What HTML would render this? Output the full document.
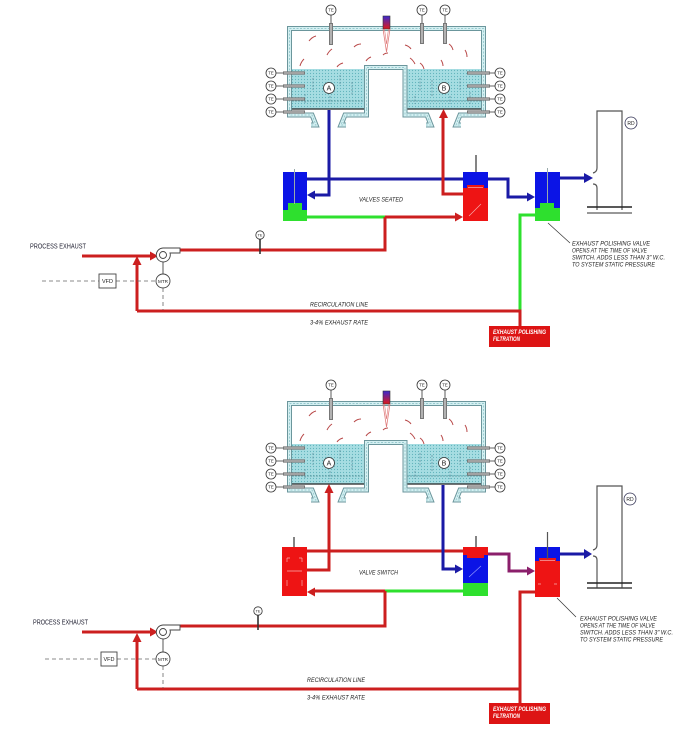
<!DOCTYPE html>
<html><head><meta charset="utf-8">
<style>
html,body{margin:0;padding:0;background:#fff;}
svg{display:block;}
.r{stroke:#cc1f1f;stroke-width:3;fill:none;}
.b{stroke:#1a1aa6;stroke-width:3;fill:none;}
.g{stroke:#2ee02e;stroke-width:3;fill:none;}
.p{stroke:#8b1f6b;stroke-width:3;fill:none;}
.w1{stroke:#6b969c;stroke-width:5;fill:none;}
.w2{stroke:#d4f0f2;stroke-width:3;fill:none;}
.w3{stroke:#84bcc2;stroke-width:.7;fill:none;stroke-dasharray:2 1.5;}
.lbl{font-family:"Liberation Sans",sans-serif;font-size:7px;fill:#223;font-style:italic;}
.ann{font-family:"Liberation Sans",sans-serif;font-size:6px;fill:#222;font-style:italic;}
.te{font-family:"Liberation Sans",sans-serif;font-size:4.3px;fill:#222;text-anchor:middle;}
.wt{font-family:"Liberation Sans",sans-serif;font-size:6px;fill:#fff;font-style:italic;font-weight:bold;}
.dash{stroke:#666;stroke-width:.8;stroke-dasharray:4 3;fill:none;}
</style></head>
<body>
<svg width="700" height="736" viewBox="0 0 700 736" xmlns="http://www.w3.org/2000/svg">
<defs>
<pattern id="dots" width="3" height="3" patternUnits="userSpaceOnUse">
<rect width="3" height="3" fill="#a6dde2"/><circle cx="1.5" cy="1.5" r=".6" fill="#62b4bc"/>
</pattern>
<linearGradient id="burn" x1="0" y1="0" x2="0" y2="1">
<stop offset="0" stop-color="#3a2ad0"/><stop offset="1" stop-color="#e01818"/>
</linearGradient>
<g id="walls">
<path d="M289.5,109 V28.5 H483.5 V109"/>
<path d="M366.5,109 V67.5 H405 V109"/>
<path d="M289.5,109 V115 H312 L316,125 H311"/>
<path d="M366.5,109 V115 H345 L341,125 H346"/>
<path d="M405,109 V115 H427 L431,125 H426"/>
<path d="M483.5,109 V115 H460 L456,125 H461"/>
</g>
<g id="chbody">
<rect x="292" y="69" width="73" height="40" fill="url(#dots)"/>
<rect x="407" y="69" width="75" height="40" fill="url(#dots)"/>
<line x1="292" y1="101" x2="365" y2="101" stroke="#4f8c93" stroke-width=".8" stroke-dasharray="2 1"/>
<line x1="407" y1="101" x2="482" y2="101" stroke="#4f8c93" stroke-width=".8" stroke-dasharray="2 1"/>
<line x1="291" y1="109" x2="365" y2="109" stroke="#222" stroke-width="1.2"/>
<line x1="407" y1="109" x2="482" y2="109" stroke="#222" stroke-width="1.2"/>
<g stroke="#5a8a9a" stroke-width=".7" stroke-dasharray="2 1.5">
<path d="M313,78 V90 M340,75 V86 M352,82 V95 M330,96 V104 M305,94 V104 M420,78 V92 M432,80 V96 M460,78 V90 M470,92 V104 M450,96 V104 M415,96 V104"/>
</g>
<use href="#walls" class="w1"/>
<use href="#walls" class="w2"/>
<use href="#walls" class="w3"/>
<!-- flame arcs -->
<g stroke="#b84848" stroke-width="1" fill="none">
<path d="M309,41 q3,-4 7,-5"/><path d="M300,66 q1,-4 4,-7"/><path d="M327,55 q2,-4 5,-6"/>
<path d="M337,67 q2,-3 6,-4"/><path d="M354,47 q3,-3 7,-3"/><path d="M366,61 q2,-3 5,-4"/>
<path d="M405,45 q4,1 6,4"/><path d="M410,58 q3,2 5,6"/><path d="M420,63 q3,2 4,6"/>
<path d="M441,60 q2,3 2,6"/><path d="M449,44 q3,2 4,6"/><path d="M465,50 q2,3 2,7"/>
<path d="M383,55 q2,-2 5,-2"/>
</g>
<!-- burner -->
<rect x="383" y="16" width="7" height="13" fill="url(#burn)" stroke="#333" stroke-width=".6"/>
<path d="M383,29 L386.5,52 L390,29" fill="none" stroke="#e07a7a" stroke-width=".8"/>
<path d="M384.5,29 L386.5,44 L388.5,29" fill="none" stroke="#e07a7a" stroke-width=".6"/>
<!-- top rods -->
<g stroke="#777" stroke-width="4"><path d="M331,23 V45 M422,23 V44 M445,23 V44"/></g>
<g stroke="#ccc" stroke-width="1.4"><path d="M331,24 V44 M422,24 V43 M445,24 V43"/></g>
<g stroke="#333" stroke-width=".8"><path d="M331,15 V23 M422,15 V23 M445,15 V23"/></g>
<!-- side rods -->
<g stroke="#777" stroke-width="3.2"><path d="M283,73 H305 M283,86 H305 M283,99 H305 M283,112 H305 M467,73 H490 M467,86 H490 M467,99 H490 M467,112 H490"/></g>
<g stroke="#ccc" stroke-width="1"><path d="M284,73 H304 M284,86 H304 M284,99 H304 M284,112 H304 M468,73 H489 M468,86 H489 M468,99 H489 M468,112 H489"/></g>
<g stroke="#333" stroke-width=".8"><path d="M276,73 H283 M276,86 H283 M276,99 H283 M276,112 H283 M490,73 H495 M490,86 H495 M490,99 H495 M490,112 H495"/></g>
<g fill="#fff" stroke="#333" stroke-width=".8">
<circle cx="331" cy="10" r="5"/><circle cx="422" cy="10" r="5"/><circle cx="445" cy="10" r="5"/>
<circle cx="271" cy="73" r="5"/><circle cx="271" cy="86" r="5"/><circle cx="271" cy="99" r="5"/><circle cx="271" cy="112" r="5"/>
<circle cx="500" cy="73" r="5"/><circle cx="500" cy="86" r="5"/><circle cx="500" cy="99" r="5"/><circle cx="500" cy="112" r="5"/>
<circle cx="329" cy="88" r="5.5"/><circle cx="444" cy="88" r="5.5"/>
</g>
</g>
</defs>

<rect width="700" height="736" fill="#fff"/>

<!-- ================= TOP ================= -->
<use href="#chbody"/>
<g class="te">
<text x="331" y="11.6">TE</text><text x="422" y="11.6">TE</text><text x="445" y="11.6">TE</text>
<text x="271" y="74.6">TE</text><text x="271" y="87.6">TE</text><text x="271" y="100.6">TE</text><text x="271" y="113.6">TE</text>
<text x="500" y="74.6">TE</text><text x="500" y="87.6">TE</text><text x="500" y="100.6">TE</text><text x="500" y="113.6">TE</text>
</g>
<text x="329" y="90.5" class="te" style="font-size:7px">A</text>
<text x="444" y="90.5" class="te" style="font-size:7px">B</text>

<!-- pipes top -->
<path class="b" d="M329,110 V195 H313"/>
<polygon points="307,195 315,190.5 315,199.5" fill="#1a1aa6"/>
<path class="b" d="M307,179 H463"/>
<path class="b" d="M488,179 H508 V197 H529"/>
<polygon points="535,197 527,192.5 527,201.5" fill="#1a1aa6"/>
<path class="b" d="M560,178 H585"/>
<polygon points="593,178 584,173 584,183" fill="#1a1aa6"/>
<path class="r" d="M443,117 V194 H463"/>
<polygon points="443.5,109 439,118 448,118" fill="#cc1f1f"/>
<path class="g" d="M307,217 H386"/>
<path class="r" d="M385,217 H457"/>
<polygon points="463,217 455,212.5 455,221.5" fill="#cc1f1f"/>
<path class="r" d="M180,250 H385 V217"/>
<path class="g" d="M535,215 H520 V311"/>
<path class="r" d="M137,311 H520 V327"/>
<path class="r" d="M137,311 V263"/>
<polygon points="137,256 132.5,265 141.5,265" fill="#cc1f1f"/>
<path class="r" d="M82,256 H152"/>
<polygon points="158,256 150,251.5 150,260.5" fill="#cc1f1f"/>

<!-- valves top -->
<rect x="283" y="172" width="24" height="38" fill="#0b14e6"/>
<rect x="283" y="210" width="24" height="11" fill="#2ee02e"/>
<rect x="288" y="203" width="14" height="7" fill="#2ee02e"/>
<line x1="294.5" y1="169" x2="294.5" y2="204" stroke="#9aa" stroke-width="1"/>
<rect x="463" y="172" width="25" height="13" fill="#0b14e6"/>
<rect x="463" y="185" width="25" height="36" fill="#ee1414"/>
<rect x="463" y="185" width="4" height="3" fill="#0b14e6"/><rect x="484" y="185" width="4" height="3" fill="#0b14e6"/>
<line x1="468" y1="187.5" x2="483" y2="187.5" stroke="#f7b0b0" stroke-width=".7"/>
<line x1="469" y1="216" x2="481" y2="204" stroke="#f7b0b0" stroke-width=".6"/>
<line x1="476" y1="155" x2="476" y2="172" stroke="#333" stroke-width="1.2"/>
<rect x="535" y="172" width="25" height="36" fill="#0b14e6"/>
<rect x="535" y="208" width="25" height="13" fill="#2ee02e"/>
<rect x="540" y="203" width="14" height="6" fill="#2ee02e"/>
<line x1="547.5" y1="168" x2="547.5" y2="203" stroke="#9aa" stroke-width="1"/>

<!-- fan top -->
<path d="M170,253 A7,7 0 1 1 163,248 H180 V253 Z" fill="#fff" stroke="#444" stroke-width=".9"/>
<circle cx="163" cy="255" r="3.5" fill="#fff" stroke="#444" stroke-width=".9"/>
<line x1="163" y1="262" x2="163" y2="274" stroke="#444" stroke-width=".9"/>
<circle cx="163" cy="281" r="7" fill="#fff" stroke="#444" stroke-width=".9"/>
<text x="163" y="282.8" class="te" style="font-size:4.6px">MTR</text>
<path class="dash" d="M42,281 H99 M116,281 H156 M163,288 V310"/>
<rect x="99" y="274" width="17" height="14" fill="#fff" stroke="#444" stroke-width=".9"/>
<text x="107.5" y="283" class="te" style="font-size:5.5px">VFD</text>
<circle cx="260" cy="235" r="4.2" fill="#fff" stroke="#333" stroke-width=".8"/>
<text x="260" y="236.5" class="te" style="font-size:3.8px">TE</text>
<line x1="260" y1="239" x2="260" y2="254" stroke="#333" stroke-width="1.6"/>

<!-- texts top -->
<text x="30" y="248.5" class="lbl" textLength="56" lengthAdjust="spacingAndGlyphs" style="font-style:normal">PROCESS EXHAUST</text>
<text x="359" y="201.5" class="ann" textLength="44" lengthAdjust="spacingAndGlyphs">VALVES SEATED</text>
<text x="310" y="306.5" class="ann" textLength="58" lengthAdjust="spacingAndGlyphs">RECIRCULATION LINE</text>
<text x="310" y="324.5" class="ann" textLength="58" lengthAdjust="spacingAndGlyphs">3-4% EXHAUST RATE</text>

<rect x="489" y="326" width="61" height="21" fill="#dd1414"/>
<text x="493" y="334" class="wt" textLength="53" lengthAdjust="spacingAndGlyphs">EXHAUST POLISHING</text>
<text x="493" y="341" class="wt" textLength="27" lengthAdjust="spacingAndGlyphs">FILTRATION</text>

<!-- annotation top -->
<line x1="548" y1="223" x2="570" y2="243" stroke="#333" stroke-width=".7"/>
<text x="572" y="245.5" class="ann" textLength="78" lengthAdjust="spacingAndGlyphs">EXHAUST POLISHING VALVE</text>
<text x="572" y="252.5" class="ann" textLength="75" lengthAdjust="spacingAndGlyphs">OPENS AT THE TIME OF VALVE</text>
<text x="572" y="259.5" class="ann" textLength="93" lengthAdjust="spacingAndGlyphs">SWITCH. ADDS LESS THAN 3" W.C.</text>
<text x="572" y="266.5" class="ann" textLength="83" lengthAdjust="spacingAndGlyphs">TO SYSTEM STATIC PRESSURE</text>

<!-- stack top -->
<g fill="none" stroke="#555" stroke-width="1.2">
<path d="M597,168 V111 H622 V210"/>
<path d="M597,188 V210"/>
<path d="M597,168 q0,4 -4,5"/><path d="M597,188 q0,-4 -4,-4"/>
</g>
<line x1="587" y1="207" x2="632" y2="207" stroke="#222" stroke-width="1.5"/>
<line x1="587" y1="213" x2="632" y2="213" stroke="#777" stroke-width="1.5"/>
<circle cx="631" cy="123" r="6" fill="#fff" stroke="#335" stroke-width=".8"/>
<text x="631" y="125" class="te" style="font-size:5px">RD</text>

<!-- ================= BOTTOM ================= -->
<use href="#chbody" y="375"/>
<g class="te">
<text x="331" y="386.6">TE</text><text x="422" y="386.6">TE</text><text x="445" y="386.6">TE</text>
<text x="271" y="449.6">TE</text><text x="271" y="462.6">TE</text><text x="271" y="475.6">TE</text><text x="271" y="488.6">TE</text>
<text x="500" y="449.6">TE</text><text x="500" y="462.6">TE</text><text x="500" y="475.6">TE</text><text x="500" y="488.6">TE</text>
</g>
<text x="329" y="465.5" class="te" style="font-size:7px">A</text>
<text x="444" y="465.5" class="te" style="font-size:7px">B</text>

<!-- pipes bottom -->
<path class="r" d="M329,492 V570 H307"/>
<polygon points="329,484 324.5,493 333.5,493" fill="#cc1f1f"/>
<path class="r" d="M307,551 H463"/>
<path class="b" d="M443,485 V569 H457"/>
<polygon points="463,569 455,564.5 455,573.5" fill="#1a1aa6"/>
<path class="g" d="M463,591 H384"/>
<path class="r" d="M385,591 H313"/>
<polygon points="307,592 315,587.5 315,596.5" fill="#cc1f1f"/>
<path class="r" d="M180,626 H385 V591"/>
<path class="p" d="M488,554 H509 V571 H529"/>
<polygon points="535,571 527,566.5 527,575.5" fill="#8b1f6b"/>
<path class="b" d="M560,554 H585"/>
<polygon points="592,554 584,549 584,559" fill="#1a1aa6"/>
<path class="r" d="M535,592 H520 V703"/>
<path class="r" d="M137,689 H520"/>
<path class="r" d="M137,689 V640"/>
<polygon points="137,633 132.5,642 141.5,642" fill="#cc1f1f"/>
<path class="r" d="M82,632 H152"/>
<polygon points="158,632 150,627.5 150,636.5" fill="#cc1f1f"/>

<!-- valves bottom -->
<rect x="282" y="547" width="25" height="49" fill="#ee1414"/>
<g stroke="#f7b0b0" stroke-width=".7" fill="none">
<path d="M287,558 V562 M302,558 V562 M287,558 H290 M302,558 H299 M287,571 H302 M287,580 V586 M302,580 V586"/>
</g>
<line x1="294" y1="537" x2="294" y2="547" stroke="#333" stroke-width="1.2"/>
<rect x="463" y="547" width="25" height="11" fill="#ee1414"/>
<rect x="463" y="558" width="25" height="25" fill="#0b14e6"/>
<rect x="463" y="555" width="4" height="3" fill="#0b14e6"/><rect x="484" y="555" width="4" height="3" fill="#0b14e6"/>
<rect x="463" y="583" width="25" height="13" fill="#2ee02e"/>
<line x1="469" y1="577" x2="481" y2="566" stroke="#9aa0ff" stroke-width=".6"/>
<line x1="476" y1="536" x2="476" y2="547" stroke="#333" stroke-width="1.2"/>
<rect x="535" y="547" width="25" height="11" fill="#0b14e6"/>
<rect x="535" y="558" width="25" height="39" fill="#ee1414"/>
<rect x="535" y="558" width="4" height="3" fill="#0b14e6"/><rect x="556" y="558" width="4" height="3" fill="#0b14e6"/>
<line x1="540" y1="560.5" x2="555" y2="560.5" stroke="#f7b0b0" stroke-width=".7"/>
<path d="M538,584 H541 M554,584 H557" stroke="#f7b0b0" stroke-width=".7"/>
<line x1="547.5" y1="532" x2="547.5" y2="559" stroke="#555" stroke-width="1.2"/>

<!-- fan bottom -->
<path d="M170,630 A7,7 0 1 1 163,625 H180 V630 Z" fill="#fff" stroke="#444" stroke-width=".9"/>
<circle cx="163" cy="632" r="3.5" fill="#fff" stroke="#444" stroke-width=".9"/>
<line x1="163" y1="639" x2="163" y2="652" stroke="#444" stroke-width=".9"/>
<circle cx="163" cy="659" r="7" fill="#fff" stroke="#444" stroke-width=".9"/>
<text x="163" y="660.8" class="te" style="font-size:4.6px">MTR</text>
<path class="dash" d="M45,659 H101 M117,659 H156 M163,666 V688"/>
<rect x="101" y="652" width="16" height="14" fill="#fff" stroke="#444" stroke-width=".9"/>
<text x="109" y="661" class="te" style="font-size:5.5px">VFD</text>
<circle cx="258" cy="611" r="4.2" fill="#fff" stroke="#333" stroke-width=".8"/>
<text x="258" y="612.5" class="te" style="font-size:3.8px">TE</text>
<line x1="258" y1="615" x2="258" y2="630" stroke="#333" stroke-width="1.6"/>

<!-- texts bottom -->
<text x="33" y="624.5" class="lbl" textLength="55" lengthAdjust="spacingAndGlyphs" style="font-style:normal">PROCESS EXHAUST</text>
<text x="359" y="574.5" class="ann" textLength="39" lengthAdjust="spacingAndGlyphs">VALVE SWITCH</text>
<text x="307" y="682" class="ann" textLength="58" lengthAdjust="spacingAndGlyphs">RECIRCULATION LINE</text>
<text x="307" y="699.5" class="ann" textLength="58" lengthAdjust="spacingAndGlyphs">3-4% EXHAUST RATE</text>

<rect x="489" y="703" width="61" height="21" fill="#dd1414"/>
<text x="493" y="711" class="wt" textLength="53" lengthAdjust="spacingAndGlyphs">EXHAUST POLISHING</text>
<text x="493" y="718" class="wt" textLength="27" lengthAdjust="spacingAndGlyphs">FILTRATION</text>

<!-- annotation bottom -->
<line x1="557" y1="598" x2="576" y2="617" stroke="#333" stroke-width=".7"/>
<text x="580" y="620.5" class="ann" textLength="77" lengthAdjust="spacingAndGlyphs">EXHAUST POLISHING VALVE</text>
<text x="580" y="627.5" class="ann" textLength="75" lengthAdjust="spacingAndGlyphs">OPENS AT THE TIME OF VALVE</text>
<text x="580" y="634.5" class="ann" textLength="93" lengthAdjust="spacingAndGlyphs">SWITCH. ADDS LESS THAN 3" W.C.</text>
<text x="580" y="641.5" class="ann" textLength="83" lengthAdjust="spacingAndGlyphs">TO SYSTEM STATIC PRESSURE</text>

<!-- stack bottom -->
<g fill="none" stroke="#555" stroke-width="1.2">
<path d="M597,545 V486 H622 V588"/>
<path d="M597,560 V588"/>
<path d="M597,545 q0,4 -4,5"/><path d="M597,560 q0,-4 -4,-4"/>
</g>
<line x1="587" y1="583" x2="632" y2="583" stroke="#222" stroke-width="1.5"/>
<line x1="587" y1="588" x2="632" y2="588" stroke="#444" stroke-width="1.5"/>
<circle cx="630" cy="499" r="6" fill="#fff" stroke="#335" stroke-width=".8"/>
<text x="630" y="501" class="te" style="font-size:5px">RD</text>
</svg>
</body></html>
